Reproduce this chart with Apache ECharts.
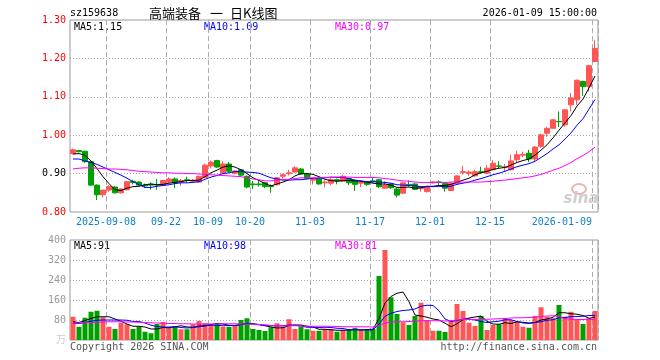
<!DOCTYPE html>
<html><head><meta charset="utf-8">
<script src="https://cdn.jsdelivr.net/npm/echarts@6/dist/echarts.min.js"></script>
<style>html,body{margin:0;padding:0;background:#fff}#c{width:660px;height:360px}</style>
</head><body><div id="c"></div>
<script>
const dates = ['2025-08-29',
'2025-09-01','2025-09-02','2025-09-03','2025-09-04','2025-09-05',
'2025-09-08','2025-09-09','2025-09-10','2025-09-11','2025-09-12',
'2025-09-15','2025-09-16','2025-09-17','2025-09-18','2025-09-19',
'2025-09-22','2025-09-23','2025-09-24','2025-09-25','2025-09-26',
'2025-09-29','2025-09-30','2025-10-09','2025-10-10',
'2025-10-13','2025-10-14','2025-10-15','2025-10-16','2025-10-17',
'2025-10-20','2025-10-21','2025-10-22','2025-10-23','2025-10-24',
'2025-10-27','2025-10-28','2025-10-29','2025-10-30','2025-10-31',
'2025-11-03','2025-11-04','2025-11-05','2025-11-06','2025-11-07',
'2025-11-10','2025-11-11','2025-11-12','2025-11-13','2025-11-14',
'2025-11-17','2025-11-18','2025-11-19','2025-11-20','2025-11-21',
'2025-11-24','2025-11-25','2025-11-26','2025-11-27','2025-11-28',
'2025-12-01','2025-12-02','2025-12-03','2025-12-04','2025-12-05',
'2025-12-08','2025-12-09','2025-12-10','2025-12-11','2025-12-12',
'2025-12-15','2025-12-16','2025-12-17','2025-12-18','2025-12-19',
'2025-12-22','2025-12-23','2025-12-24','2025-12-25','2025-12-26',
'2025-12-29','2025-12-30','2025-12-31',
'2026-01-05','2026-01-06','2026-01-07','2026-01-08','2026-01-09'];

const opens = [0.952,0.960,0.958,0.931,0.870,0.845,0.857,0.865,0.850,0.858,
0.880,0.878,0.870,0.872,0.872,0.870,0.878,0.886,0.878,0.884,
0.880,0.878,0.890,0.920,0.934,0.902,0.925,0.901,0.910,0.893,
0.873,0.873,0.876,0.868,0.871,0.893,0.900,0.904,0.912,0.899,
0.883,0.887,0.876,0.875,0.884,0.880,0.887,0.882,0.875,0.878,
0.881,0.884,0.862,0.873,0.860,0.849,0.872,0.873,0.861,0.853,
0.876,0.878,0.875,0.856,0.875,0.903,0.900,0.894,0.905,0.901,
0.910,0.920,0.916,0.910,0.936,0.948,0.953,0.938,0.971,1.005,
1.018,1.036,1.027,1.079,1.092,1.140,1.127,1.192];
const closes = [0.962,0.957,0.931,0.870,0.845,0.857,0.866,0.850,0.860,0.879,
0.877,0.870,0.868,0.870,0.870,0.882,0.886,0.876,0.882,0.882,
0.883,0.893,0.922,0.930,0.917,0.925,0.906,0.907,0.896,0.865,
0.871,0.871,0.866,0.866,0.889,0.897,0.902,0.915,0.899,0.887,
0.886,0.873,0.878,0.884,0.881,0.893,0.876,0.872,0.878,0.872,
0.879,0.866,0.870,0.863,0.844,0.876,0.870,0.859,0.864,0.866,
0.878,0.877,0.862,0.875,0.894,0.905,0.904,0.905,0.903,0.914,
0.927,0.919,0.918,0.933,0.949,0.950,0.938,0.969,1.001,1.018,
1.040,1.035,1.066,1.097,1.143,1.127,1.181,1.226];
const highs = [0.965,0.962,0.960,0.932,0.872,0.858,0.870,0.867,0.862,0.880,
0.884,0.880,0.874,0.877,0.886,0.884,0.890,0.890,0.886,0.892,
0.886,0.895,0.926,0.934,0.936,0.932,0.930,0.909,0.912,0.895,
0.881,0.881,0.878,0.872,0.891,0.900,0.910,0.919,0.914,0.901,
0.889,0.889,0.882,0.888,0.887,0.897,0.889,0.884,0.882,0.880,
0.889,0.886,0.880,0.875,0.862,0.878,0.882,0.875,0.866,0.868,
0.880,0.882,0.877,0.877,0.896,0.920,0.908,0.910,0.918,0.922,
0.935,0.932,0.925,0.949,0.960,0.957,0.962,0.972,1.004,1.022,
1.042,1.062,1.068,1.110,1.145,1.142,1.183,1.247];
const lows = [0.950,0.955,0.928,0.868,0.831,0.838,0.853,0.848,0.848,0.856,
0.872,0.868,0.862,0.858,0.858,0.868,0.876,0.862,0.868,0.876,
0.878,0.876,0.888,0.914,0.915,0.900,0.902,0.898,0.894,0.862,
0.860,0.866,0.862,0.850,0.869,0.887,0.895,0.903,0.897,0.885,
0.872,0.871,0.864,0.870,0.872,0.878,0.870,0.855,0.865,0.868,
0.875,0.862,0.866,0.860,0.838,0.847,0.866,0.857,0.853,0.851,
0.874,0.870,0.853,0.854,0.873,0.897,0.894,0.892,0.900,0.899,
0.908,0.913,0.905,0.908,0.930,0.943,0.930,0.930,0.967,0.996,
1.016,1.021,1.022,1.062,1.079,1.103,1.114,1.190];

const ma5 = [0.951,0.952,0.948,0.933,0.913,0.892,0.874,0.858,0.856,0.862,
0.866,0.867,0.871,0.873,0.871,0.872,0.875,0.877,0.879,0.882,
0.882,0.883,0.892,0.902,0.909,0.917,0.920,0.917,0.910,0.900,
0.889,0.882,0.874,0.868,0.873,0.878,0.884,0.894,0.900,0.900,
0.898,0.892,0.885,0.882,0.880,0.882,0.882,0.881,0.880,0.878,
0.875,0.873,0.873,0.870,0.864,0.864,0.865,0.862,0.863,0.867,
0.867,0.869,0.869,0.872,0.877,0.883,0.888,0.897,0.902,0.906,
0.911,0.914,0.916,0.922,0.929,0.934,0.938,0.948,0.961,0.975,
0.993,1.013,1.032,1.051,1.076,1.094,1.123,1.154];
const ma10 = [0.938,0.938,0.933,0.929,0.924,0.917,0.910,0.903,0.896,0.888,
0.879,0.871,0.864,0.864,0.867,0.869,0.871,0.874,0.876,0.876,
0.877,0.879,0.885,0.891,0.895,0.900,0.902,0.905,0.906,0.904,
0.903,0.901,0.895,0.889,0.886,0.883,0.883,0.884,0.884,0.886,
0.888,0.888,0.889,0.891,0.890,0.890,0.887,0.883,0.881,0.879,
0.879,0.878,0.877,0.875,0.871,0.870,0.869,0.868,0.866,0.866,
0.866,0.867,0.866,0.867,0.872,0.875,0.878,0.883,0.887,0.892,
0.897,0.901,0.906,0.912,0.918,0.922,0.926,0.932,0.942,0.952,
0.964,0.975,0.990,1.006,1.026,1.043,1.068,1.093];
const ma30 = [0.912,0.914,0.915,0.915,0.914,0.913,0.912,0.912,0.911,0.910,
0.908,0.906,0.905,0.904,0.903,0.902,0.902,0.901,0.901,0.900,
0.900,0.899,0.898,0.897,0.896,0.895,0.894,0.893,0.892,0.889,
0.886,0.884,0.881,0.881,0.883,0.884,0.885,0.887,0.889,0.889,
0.889,0.889,0.890,0.890,0.891,0.891,0.891,0.890,0.890,0.890,
0.890,0.889,0.887,0.885,0.883,0.881,0.880,0.878,0.877,0.877,
0.877,0.878,0.877,0.878,0.878,0.878,0.878,0.878,0.878,0.879,
0.880,0.882,0.883,0.885,0.887,0.889,0.891,0.894,0.898,0.903,
0.909,0.914,0.921,0.929,0.939,0.947,0.957,0.969];

const volumes = [93,53,89,113,117,91,53,44,69,63,
44,53,33,27,64,72,51,53,43,43,
63,76,67,60,64,53,53,60,80,87,
44,40,36,51,67,53,83,44,53,43,
37,37,43,43,33,40,40,49,40,40,
44,256,360,171,104,71,60,96,149,80,
37,37,32,77,144,116,69,56,96,40,
60,63,87,80,73,53,49,96,131,93,
87,140,93,113,80,64,87,116];
const vma5 = [73,70,78,86,93,93,93,84,75,64,
55,55,52,44,44,50,49,53,57,52,
51,56,58,62,66,64,59,58,62,67,
65,62,57,52,48,49,58,60,60,55,
52,43,43,41,39,39,40,41,40,42,
43,86,148,174,187,192,153,100,96,91,
84,80,67,53,65,81,88,92,96,75,
64,63,69,66,73,71,68,70,80,84,
91,109,109,105,103,98,87,91];
const vma10 = [67,66,70,75,79,80,80,80,80,79,
74,74,68,59,54,52,52,53,50,48,
50,53,56,59,59,57,58,58,62,66,
64,61,58,57,57,57,60,59,56,51,
51,50,51,50,47,46,41,42,41,40,
41,63,95,107,114,118,120,124,135,139,
138,117,84,74,78,83,84,80,74,70,
73,75,81,81,74,68,66,70,73,79,
81,89,90,93,94,95,98,98];
const vma30 = [67,68,69,70,71,72,73,73,73,72,
72,71,70,69,68,67,66,66,65,65,
64,64,64,64,64,65,65,65,64,64,
63,62,61,58,57,56,57,57,56,55,
55,55,55,55,54,53,53,53,53,53,
52,58,68,71,73,73,74,75,77,77,
77,77,76,77,80,82,82,82,83,83,
84,85,86,88,89,89,90,91,94,96,
97,94,85,83,82,82,83,81];

const tickDates = ['2025-09-08','2025-09-22','2025-10-09','2025-10-20','2025-11-03','2025-11-17','2025-12-01','2025-12-15','2026-01-09'];
const tickTexts = ['2025-09-08','09-22','10-09','10-20','11-03','11-17','12-01','12-15','2026-01-09'];

const RED = '#ff5555', GREEN = '#00a000';
const MONO = '"DejaVu Sans Mono", monospace';
const tickIdx = tickDates.map(d => dates.indexOf(d));
const isUp = i => closes[i] >= opens[i];
const last = dates.length - 1;

const chart = echarts.init(document.getElementById('c'), null, {renderer: 'canvas'});
const dashed = {show: true, interval: (i) => tickIdx.includes(i), lineStyle: {color: '#aaa', type: [5, 3], width: 1}};
const dotted = {show: true, showMinLine: false, showMaxLine: false, lineStyle: {color: '#aaa', type: [1, 2], width: 1}};
function lineS(name, data, color, xi, yi) {
  return {name, type: 'line', data, xAxisIndex: xi, yAxisIndex: yi, symbol: 'none', silent: true,
    lineStyle: {color, width: 1}, itemStyle: {color}, animation: false};
}
const option = {
  animation: false,
  backgroundColor: '#fff',
  grid: [
    {left: 70, top: 20, width: 528, height: 192, show: true, borderColor: '#999', borderWidth: 1},
    {left: 70, top: 240, width: 528, height: 100, show: true, borderColor: '#999', borderWidth: 1}
  ],
  xAxis: [
    {type: 'category', data: dates, gridIndex: 0, boundaryGap: true,
     axisLine: {show: false}, axisTick: {show: false},
     axisLabel: {interval: (i) => tickIdx.includes(i), margin: 5, alignMaxLabel: 'right',
       formatter: (v, i) => {
         const t = tickTexts[tickDates.indexOf(v)];
         return i === last ? '{e|' + t + '}' : '{c|' + t + '}';
       },
       rich: {
         c: {padding: [0, 6, 0, 0], color: '#1080c8', fontFamily: MONO, fontSize: 10},
         e: {padding: [0, 3, 0, 0], color: '#1080c8', fontFamily: MONO, fontSize: 10}
       }},
     splitLine: dashed},
    {type: 'category', data: dates, gridIndex: 1, boundaryGap: true,
     axisLine: {show: false}, axisTick: {show: false}, axisLabel: {show: false},
     splitLine: dashed}
  ],
  yAxis: [
    {type: 'value', gridIndex: 0, min: 0.8, max: 1.3, interval: 0.1, scale: true,
     axisLine: {show: false}, axisTick: {show: false},
     axisLabel: {margin: 4, fontFamily: MONO, fontSize: 10,
       formatter: v => v.toFixed(2),
       color: (v) => (Math.abs(v - 0.9) < 1e-6 ? '#000' : '#f00')},
     splitLine: dotted},
    {type: 'value', gridIndex: 1, min: 0, max: 400, interval: 80,
     axisLine: {show: false}, axisTick: {show: false},
     axisLabel: {margin: 4, fontFamily: MONO, fontSize: 10, color: '#999',
       formatter: v => (v === 0 ? '' : String(v))},
     splitLine: dotted}
  ],
  series: [
    {type: 'candlestick', xAxisIndex: 0, yAxisIndex: 0, barWidth: 5, silent: true,
     data: dates.map((d, i) => [opens[i], closes[i], lows[i], highs[i]]),
     itemStyle: {color: RED, color0: GREEN, borderColor: RED, borderColor0: GREEN, borderWidth: 1}},
    lineS('MA5', ma5, '#000', 0, 0),
    lineS('MA10', ma10, '#0000ff', 0, 0),
    lineS('MA30', ma30, '#ff00ff', 0, 0),
    {type: 'bar', xAxisIndex: 1, yAxisIndex: 1, barWidth: 5, silent: true,
     data: volumes.map((v, i) => ({value: v, itemStyle: {color: isUp(i) ? RED : GREEN}}))},
    lineS('VMA5', vma5, '#000', 1, 1),
    lineS('VMA10', vma10, '#0000ff', 1, 1),
    lineS('VMA30', vma30, '#ff00ff', 1, 1)
  ],
  graphic: [
    {type: 'text', x: 70, y: 13, style: {text: 'sz159638', font: '10px ' + MONO, fill: '#000', verticalAlign: 'middle'}},
    {type: 'text', x: 149, y: 13, style: {text: '高端装备', font: '13px "Noto Sans CJK SC"', fill: '#000', verticalAlign: 'middle'}},
    {type: 'text', x: 210, y: 13, style: {text: '一', font: '13px "Noto Sans CJK SC"', fill: '#000', verticalAlign: 'middle'}},
    {type: 'text', x: 230, y: 13, style: {text: '日K线图', font: '13px "Noto Sans CJK SC"', fill: '#000', verticalAlign: 'middle'}},
    {type: 'text', x: 597, y: 13, style: {text: '2026-01-09 15:00:00', font: '10px ' + MONO, fill: '#000', align: 'right', verticalAlign: 'middle'}},
    {type: 'text', x: 74, y: 27, style: {text: 'MA5:' + ma5[last].toFixed(2), font: '10px ' + MONO, fill: '#000', verticalAlign: 'middle'}},
    {type: 'text', x: 204, y: 27, style: {text: 'MA10:' + ma10[last].toFixed(2), font: '10px ' + MONO, fill: '#0000ff', verticalAlign: 'middle'}},
    {type: 'text', x: 335, y: 27, style: {text: 'MA30:' + ma30[last].toFixed(2), font: '10px ' + MONO, fill: '#ff00ff', verticalAlign: 'middle'}},
    {type: 'text', x: 74, y: 246, style: {text: 'MA5:' + vma5[last], font: '10px ' + MONO, fill: '#000', verticalAlign: 'middle'}},
    {type: 'text', x: 204, y: 246, style: {text: 'MA10:' + vma10[last], font: '10px ' + MONO, fill: '#0000ff', verticalAlign: 'middle'}},
    {type: 'text', x: 335, y: 246, style: {text: 'MA30:' + vma30[last], font: '10px ' + MONO, fill: '#ff00ff', verticalAlign: 'middle'}},
    {type: 'text', x: 66, y: 339, style: {text: '万', font: '10px "Noto Sans CJK SC"', fill: '#ccc', align: 'right', verticalAlign: 'middle'}},
    {type: 'text', x: 70, y: 347, style: {text: 'Copyright 2026 SINA.COM', font: '10px ' + MONO, fill: '#555', verticalAlign: 'middle'}},
    {type: 'text', x: 597, y: 347, style: {text: 'http://finance.sina.com.cn', font: '10px ' + MONO, fill: '#555', align: 'right', verticalAlign: 'middle'}},
    {type: 'ellipse', shape: {cx: 579, cy: 189, rx: 7, ry: 5}, style: {fill: 'none', stroke: '#f3b0b0', lineWidth: 2}, silent: true},
    {type: 'text', x: 581, y: 199, style: {text: 'sina', font: 'italic bold 15px "DejaVu Sans"', fill: '#cfcfcf', align: 'center', verticalAlign: 'middle'}}
  ]
};
chart.setOption(option);
</script>
</body></html>
